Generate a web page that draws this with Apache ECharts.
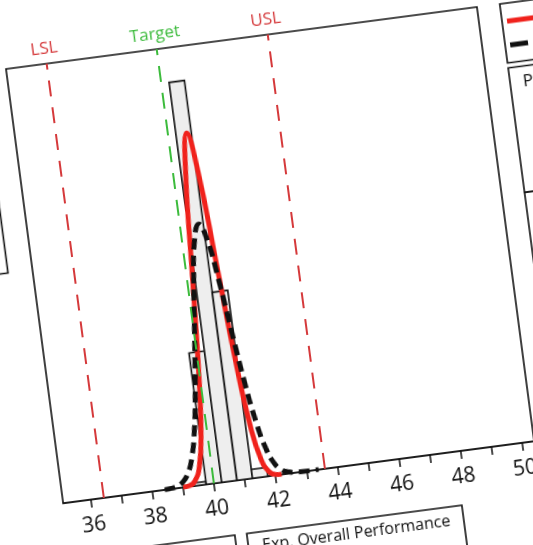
<!DOCTYPE html>
<html>
<head>
<meta charset="utf-8">
<script src="https://cdn.jsdelivr.net/npm/echarts@6/dist/echarts.min.js"></script>
<style>
  html, body { margin: 0; padding: 0; width: 533px; height: 545px; overflow: hidden; background: #fff; }
  #sheet {
    position: absolute; left: -74px; top: -1px; width: 780px; height: 690px;
    transform-origin: 80px 70px; transform: rotate(-7.5deg);
  }
</style>
</head>
<body>
<div id="sheet"></div>
<script>
// Histogram bins and their frequencies
const binStart = [39.25, 39.75, 40.25, 40.75, 41.25];
const binEnd   = [39.75, 40.25, 40.75, 41.25, 41.75];
const binCount = [1, 44, 134, 63, 3];

// Within (solid red) fitted curve
const withinX = [39.0, 39.2, 39.4, 39.6, 39.8, 40.0, 40.2, 40.4, 40.6, 40.8, 41.0, 41.2, 41.4, 41.6, 41.8, 42.0, 42.2];
const withinY = [0.1, 0.3, 1.6, 6.0, 17.4, 40.0, 72.4, 103.5, 116.6, 103.5, 72.4, 40.0, 17.4, 6.0, 1.6, 0.3, 0.1];

// Overall (dashed black) fitted curve
const overallX = [38.4, 38.6, 38.8, 39.0, 39.2, 39.4, 39.6, 39.8, 40.0, 40.2, 40.4, 40.6, 40.8, 41.0, 41.2, 41.4, 41.6, 41.8, 42.0, 42.2, 42.4, 42.6, 43.0, 43.4];
const overallY = [0, 0.2, 0.6, 1.7, 4.2, 9.4, 18.5, 32.1, 49.4, 67.2, 80.9, 86.0, 80.9, 67.2, 49.4, 32.1, 18.5, 9.4, 4.2, 1.7, 0.6, 0.2, 0, 0];

// Specification limits
const specNames  = ['LSL', 'Target', 'USL'];
const specValues = [36.4, 40, 43.6];
const specColors = ['#d5393b', '#3cbb3c', '#d5393b'];

// Axis ticks and labels
const tickValues  = [36, 37, 38, 39, 40, 41, 42, 43, 44, 45, 46, 47, 48, 49, 50];
const labelValues = [36, 38, 40, 42, 44, 46, 48, 50];

const FONT = 'Open Sans';
const chart = echarts.init(document.getElementById('sheet'), null, { renderer: 'canvas' });

const GL = 80, GT = 70, GW = 475, GH = 438;

chart.setOption({
  animation: false,
  textStyle: { fontFamily: FONT, color: '#111' },
  grid: { left: GL, top: GT, width: GW, height: GH, show: true, borderColor: '#111', borderWidth: 1.6, backgroundColor: 'transparent' },
  xAxis: {
    type: 'value', min: 35.1, max: 50.4,
    axisLine: { show: true, lineStyle: { color: '#111', width: 1.6 } },
    axisTick: { show: true, customValues: tickValues, length: 8, lineStyle: { color: '#111', width: 1.5 } },
    axisLabel: { customValues: labelValues, fontSize: 21, margin: 16, color: '#111', fontFamily: FONT },
    splitLine: { show: false }
  },
  yAxis: { type: 'value', min: 0, max: 145.5, show: false, splitLine: { show: false } },
  series: [
    {
      type: 'custom', name: 'Histogram', z: 1,
      data: binStart.map((s, i) => [s, binEnd[i], binCount[i]]),
      encode: { x: [0, 1], y: 2 },
      renderItem: function (params, api) {
        const lo = api.coord([api.value(0), 0]);
        const hi = api.coord([api.value(1), api.value(2)]);
        return {
          type: 'rect',
          shape: { x: lo[0], y: hi[1], width: hi[0] - lo[0], height: lo[1] - hi[1] },
          style: { fill: '#eeeeee', stroke: '#111', lineWidth: 1.6 }
        };
      }
    },
    {
      type: 'line', name: 'Spec', data: [], z: 2,
      markLine: {
        silent: true, symbol: 'none',
        data: specNames.map((n, i) => ({
          name: n, xAxis: specValues[i],
          lineStyle: { color: specColors[i], type: [16, 11], width: 2 },
          label: { show: true, position: 'end', formatter: '{b}', color: specColors[i], fontSize: 17, fontFamily: FONT, distance: 6 }
        }))
      }
    },
    {
      type: 'line', name: 'Within', z: 3, smooth: true, symbol: 'none',
      data: withinX.map((x, i) => [x, withinY[i]]),
      lineStyle: { color: '#f0221c', width: 5 }
    },
    {
      type: 'line', name: 'Overall', z: 4, smooth: true, symbol: 'none',
      data: overallX.map((x, i) => [x, overallY[i]]),
      lineStyle: { color: '#111', width: 5, type: [11, 6] }
    }
  ],
  graphic: [
    // legend panel
    { type: 'rect', shape: { x: GL + 498, y: GT, width: 170, height: 59.5 }, style: { fill: 'none', stroke: '#111', lineWidth: 1.6 } },
    { type: 'line', shape: { x1: GL + 503, y1: GT + 18, x2: GL + 560, y2: GT + 18 }, style: { stroke: '#f0221c', lineWidth: 5 } },
    { type: 'line', shape: { x1: GL + 503, y1: GT + 42, x2: GL + 560, y2: GT + 42 }, style: { stroke: '#111', lineWidth: 5, lineDash: [18, 7] } },
    { type: 'text', x: GL + 566, y: GT + 18, style: { text: 'Within', font: '16px "Open Sans"', fill: '#111', verticalAlign: 'middle' } },
    { type: 'text', x: GL + 566, y: GT + 42, style: { text: 'Overall', font: '16px "Open Sans"', fill: '#111', verticalAlign: 'middle' } },
    // process data panel
    { type: 'rect', shape: { x: GL + 498, y: GT + 64.5, width: 170, height: 125.5 }, style: { fill: 'none', stroke: '#111', lineWidth: 1.6 } },
    { type: 'text', x: GL + 511, y: GT + 80, style: { text: 'Process Data', font: '17px "Open Sans"', fill: '#111', verticalAlign: 'middle' } },
    { type: 'rect', shape: { x: GL + 498, y: GT + 190, width: 170, height: 300 }, style: { fill: 'none', stroke: '#111', lineWidth: 1.6 } },
    // left panel
    { type: 'rect', shape: { x: 0, y: GT, width: GL - 24.6, height: 202.5 }, style: { fill: 'none', stroke: '#111', lineWidth: 1.6 } },
    // bottom panels
    { type: 'rect', shape: { x: GL - 40, y: GT + 492, width: 206, height: 100 }, style: { fill: 'none', stroke: '#111', lineWidth: 1.6 } },
    { type: 'rect', shape: { x: GL + 178, y: GT + 492, width: 217, height: 100 }, style: { fill: 'none', stroke: '#111', lineWidth: 1.6 } },
    { type: 'text', x: GL + 192, y: GT + 506, style: { text: 'Exp. Overall Performance', font: '16px "Open Sans"', fill: '#111', verticalAlign: 'middle' } }
  ]
});
</script>
</body>
</html>
